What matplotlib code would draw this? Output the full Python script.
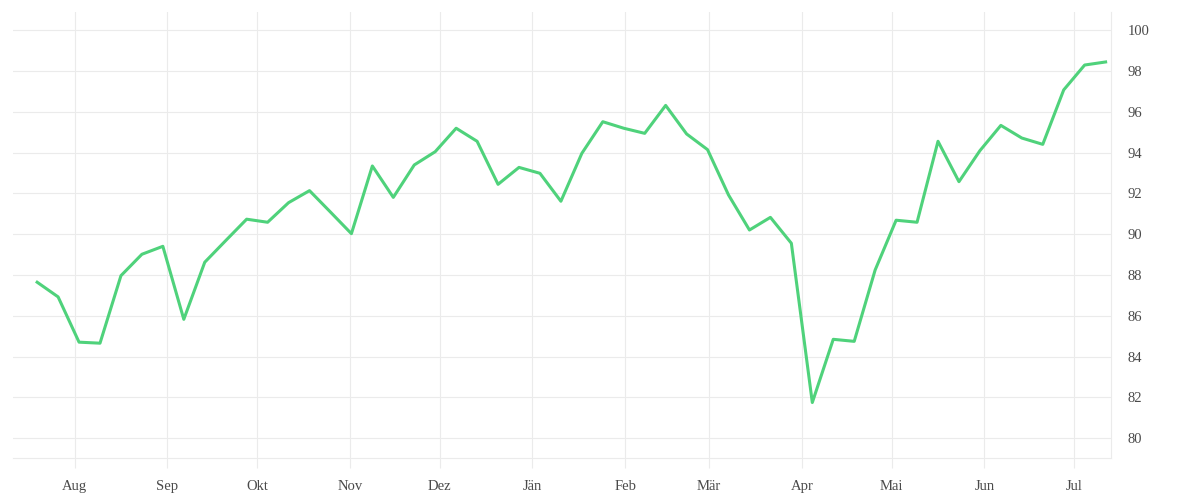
"""
Weekly index line, Jul to Jul, right-hand y axis
"""
import numpy as np
import pandas as pd
import matplotlib.pyplot as plt

# Weekly dates and values
dates = pd.date_range("2021-07-19 12:00", periods=52, freq="7D")
values = [87.65, 86.93, 84.71, 84.66, 87.97, 89.02, 89.41, 85.83, 88.63, 89.69,
          90.74, 90.59, 91.55, 92.14, 91.09, 90.03, 93.35, 91.81, 93.40, 94.05,
          95.20, 94.56, 92.45, 93.28, 92.99, 91.62, 93.97, 95.52, 95.20, 94.95,
          96.32, 94.92, 94.15, 91.93, 90.21, 90.83, 89.56, 81.75, 84.85, 84.75,
          88.25, 90.69, 90.59, 94.56, 92.58, 94.10, 95.34, 94.72, 94.41, 97.08,
          98.30, 98.45]

# Month ticks and labels (Austrian German)
month_ticks = pd.date_range("2021-08-01", periods=12, freq="MS")
month_labels = ["Aug", "Sep", "Okt", "Nov", "Dez", "Jän",
                "Feb", "Mär", "Apr", "Mai", "Jun", "Jul"]
y_ticks = np.arange(80, 101, 2)

plt.rcParams['font.family'] = ['Liberation Serif', 'DejaVu Serif']

fig = plt.figure(figsize=(12, 5), dpi=100)
ax = fig.add_axes([0.0108, 0.084, 0.9148, 0.892])

grid_col = '#ebebeb'
ax.plot(dates, values, color='#4fd27b', linewidth=2.2, zorder=3)

ax.set_xlim(pd.Timestamp("2021-07-11 10:00"), pd.Timestamp("2022-07-13 05:00"))
ax.set_ylim(79.03, 100.9)

ax.set_xticks(month_ticks)
ax.set_xticklabels(month_labels)
ax.set_yticks(y_ticks)
ax.yaxis.tick_right()

ax.grid(True, color=grid_col, linewidth=0.8)
ax.set_axisbelow(True)

for side in ['top', 'left']:
    ax.spines[side].set_visible(False)
for side in ['bottom', 'right']:
    ax.spines[side].set_color(grid_col)
    ax.spines[side].set_linewidth(0.8)

ax.tick_params(axis='x', length=7, width=0.8, color=grid_col, pad=8.5,
               labelsize=10.5, labelcolor='#4a4a4a')
ax.tick_params(axis='y', length=0, pad=12, labelsize=10.5, labelcolor='#4a4a4a')
for lbl in ax.get_yticklabels():
    lbl.set_y(lbl.get_position()[1])

fig.savefig("out.png", dpi=100, facecolor='white')
